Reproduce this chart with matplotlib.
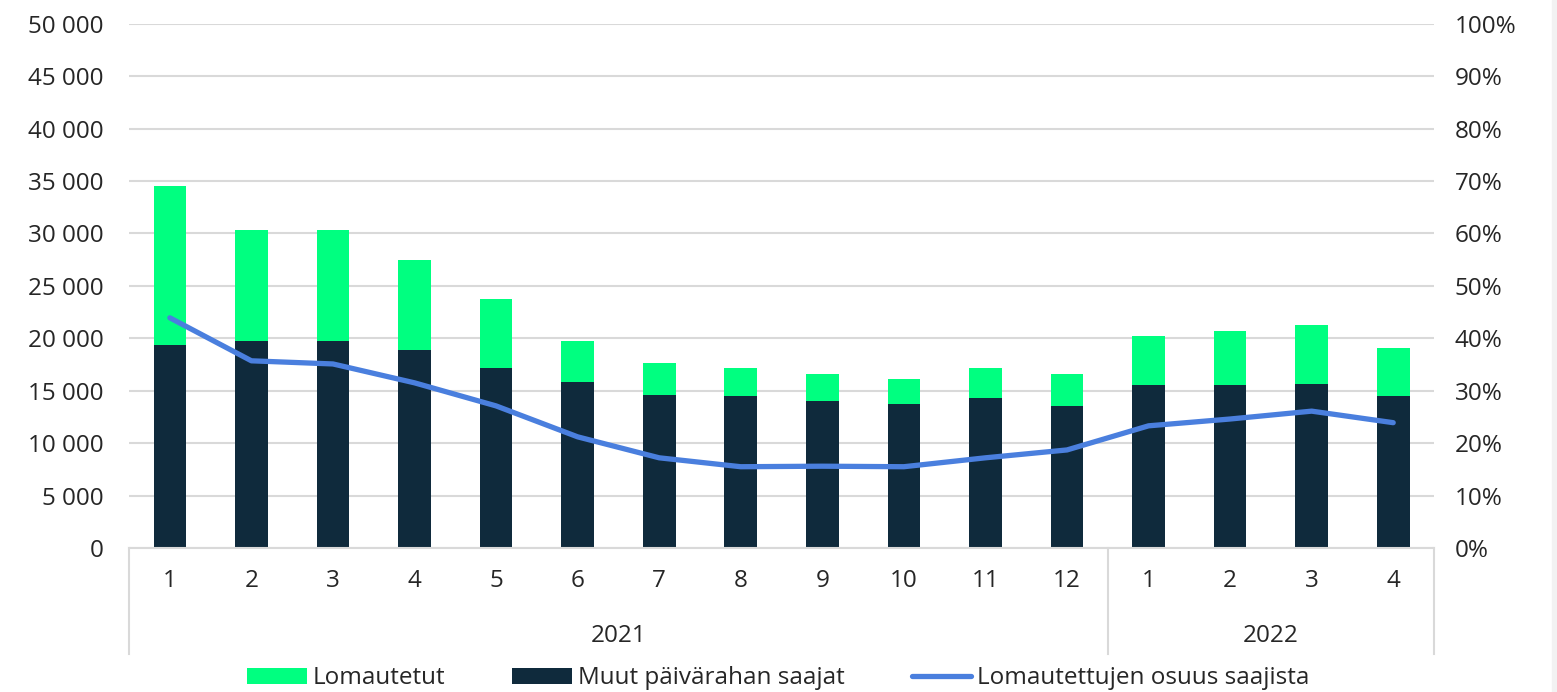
import matplotlib.pyplot as plt
from matplotlib.patches import Rectangle
from matplotlib.ticker import FuncFormatter
import numpy as np

# Data
months = ['1', '2', '3', '4', '5', '6', '7', '8', '9', '10', '11', '12', '1', '2', '3', '4']
years = ['2021', '2022']
year_counts = [12, 4]

muut = [19400, 19700, 19750, 18900, 17200, 15800, 14600, 14500, 14000, 13700, 14300, 13500,
        15550, 15550, 15650, 14500]
total = [34500, 30300, 30300, 27500, 23700, 19700, 17650, 17200, 16600, 16100, 17200, 16600,
         20200, 20700, 21300, 19100]
lomautetut = [t - m for t, m in zip(total, muut)]
osuus = [43.9, 35.7, 35.1, 31.5, 27.1, 21.2, 17.2, 15.5, 15.6, 15.5, 17.2, 18.7,
         23.3, 24.6, 26.1, 23.9]

plt.rcParams['font.family'] = ['Open Sans', 'DejaVu Sans']
fs = 17.5
txt = '#262626'
grid_c = '#d9d9d9'

fig = plt.figure(figsize=(15.57, 6.92), dpi=100)
# light grey strip at the right edge, as in the screenshot
fig.patches.append(Rectangle((1552 / 1557, 0), 1, 1, transform=fig.transFigure,
                             color='#f2f2f2', zorder=0))
ax = fig.add_axes([0.0829, 0.2081, 0.921 - 0.0829, 0.9658 - 0.2081])
x = np.arange(len(months))

ax.bar(x, muut, width=0.40, color='#0f2a3c', label='Muut päivärahan saajat', zorder=2)
ax.bar(x, lomautetut, width=0.40, bottom=muut, color='#00ff80', label='Lomautetut', zorder=2)

ax.set_ylim(0, 50000)
ax.set_yticks(np.arange(0, 50001, 5000))
ax.yaxis.set_major_formatter(FuncFormatter(lambda v, p: f'{int(v):,}'.replace(',', ' ')))
ax.set_xlim(-0.5, len(months) - 0.5)
ax.set_xticks(x)
ax.set_xticklabels(months)
ax.tick_params(axis='both', length=0, colors=txt, labelsize=fs)
ax.tick_params(axis='y', pad=18.5)
ax.tick_params(axis='x', pad=15)
ax.grid(axis='y', color=grid_c, linewidth=1.5, zorder=0)
for s in ['top', 'right', 'left']:
    ax.spines[s].set_visible(False)
ax.spines['bottom'].set_color(grid_c)
ax.spines['bottom'].set_linewidth(1.5)

ax2 = ax.twinx()
ax2.plot(x, osuus, color='#4a7fde', linewidth=3.8, label='Lomautettujen osuus saajista',
         solid_capstyle='round', zorder=3)
ax2.set_ylim(0, 100)
ax2.set_yticks(np.arange(0, 101, 10))
ax2.yaxis.set_major_formatter(FuncFormatter(lambda v, p: f'{int(v)}%'))
ax2.tick_params(axis='y', length=0, colors=txt, labelsize=fs, pad=15)
for s in ax2.spines.values():
    s.set_visible(False)

# Year grouping below the month labels
bounds = [-0.5]
for c in year_counts:
    bounds.append(bounds[-1] + c)
for b in bounds:
    ax.plot([b, b], [0, -0.203], transform=ax.get_xaxis_transform(), color=grid_c,
            linewidth=1.5, clip_on=False)
for i, yr in enumerate(years):
    ax.text((bounds[i] + bounds[i + 1]) / 2, -0.168, yr, transform=ax.get_xaxis_transform(),
            ha='center', va='center', color=txt, fontsize=fs)

h1, l1 = ax.get_legend_handles_labels()
h2, l2 = ax2.get_legend_handles_labels()
handles = [h1[1], h1[0], h2[0]]
labels = [l1[1], l1[0], l2[0]]
fig.legend(handles, labels, loc='center', bbox_to_anchor=(0.5, 0.02), ncol=3, frameon=False,
           fontsize=fs, handlelength=2.45, handleheight=0.65, handletextpad=0.25,
           columnspacing=2.75, labelcolor=txt, borderpad=0.2)

fig.savefig('out.png', dpi=100)
